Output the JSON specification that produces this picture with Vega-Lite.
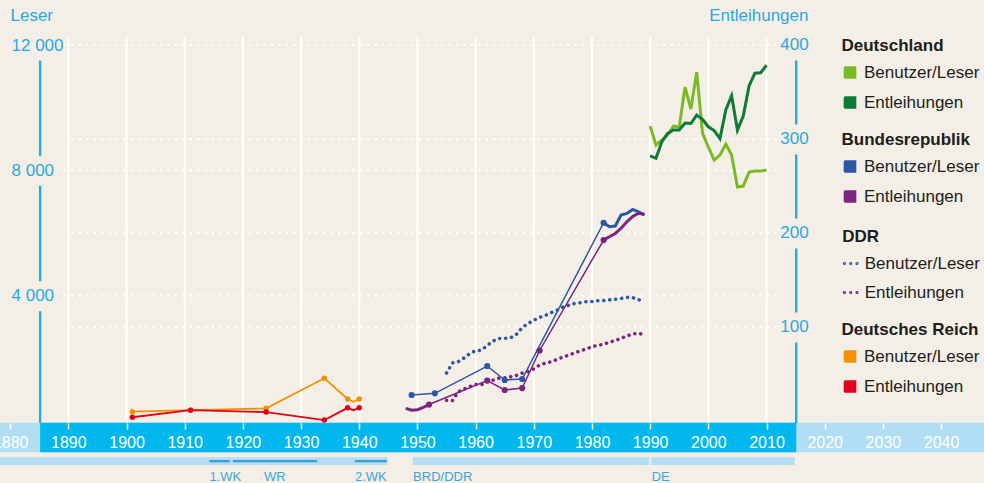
{
"$schema":"https://vega.github.io/schema/vega-lite/v6.json",
"width":984,"height":483,"autosize":{"type":"none"},"padding":0,
"background":"#f3efe7",
"config":{"view":{"stroke":null},"font":"Liberation Sans",
 "legend":{"padding":0,"titleFont":"Liberation Sans","titleFontSize":17,"titleFontWeight":"bold","titleColor":"#1d1d1b","labelFont":"Liberation Sans","labelFontSize":17,"labelColor":"#1d1d1b","titlePadding":9,"rowPadding":11,"labelOffset":5.5,"titleLimit":300,"labelLimit":300,
  "symbolType":"M-0.88,-0.88H0.88V-0.72H-0.88V-0.56H0.88V-0.4H-0.88V-0.24H0.88V-0.08H-0.88V0.08H0.88V0.24H-0.88V0.4H0.88V0.56H-0.88V0.72H0.88V0.88H-0.88","symbolSize":161.3,"symbolStrokeWidth":1.5,"symbolDash":[1,0]}},
"datasets":{
 "decades":[{"year":1890},{"year":1900},{"year":1910},{"year":1920},{"year":1930},{"year":1940},{"year":1950},{"year":1960},{"year":1970},{"year":1980},{"year":1990},{"year":2000},{"year":2010}],
 "gridLeser":[{"value":4000},{"value":8000},{"value":12000}],
 "gridEntl":[{"value":100},{"value":200},{"value":300}],
 "ticksLeser":[{"from":0,"to":4000},{"from":4000,"to":8000},{"from":8000,"to":12000}],
 "ticksEntl":[{"from":0,"to":100},{"from":100,"to":200},{"from":200,"to":300},{"from":300,"to":400}],
 "periods":[
  {"name":"Deutsches Reich","level":"era","start":1871,"end":1945},
  {"name":"BRD/DDR","level":"era","start":1949,"end":1990},
  {"name":"DE","level":"era","start":1990,"end":2015},
  {"name":"1.WK","level":"event","start":1914,"end":1918},
  {"name":"WR","level":"event","start":1918,"end":1933},
  {"name":"2.WK","level":"event","start":1939,"end":1945}],
 "series":[
  {"c":"Deutschland","m":"Benutzer/Leser","year":1990,"value":9415},
  {"c":"Deutschland","m":"Benutzer/Leser","year":1991,"value":8809},
  {"c":"Deutschland","m":"Benutzer/Leser","year":1992,"value":8968},
  {"c":"Deutschland","m":"Benutzer/Leser","year":1993,"value":9128},
  {"c":"Deutschland","m":"Benutzer/Leser","year":1994,"value":9415},
  {"c":"Deutschland","m":"Benutzer/Leser","year":1995,"value":9383},
  {"c":"Deutschland","m":"Benutzer/Leser","year":1996,"value":10660},
  {"c":"Deutschland","m":"Benutzer/Leser","year":1997,"value":9957},
  {"c":"Deutschland","m":"Benutzer/Leser","year":1998,"value":11138},
  {"c":"Deutschland","m":"Benutzer/Leser","year":1999,"value":9192},
  {"c":"Deutschland","m":"Benutzer/Leser","year":2000,"value":8745},
  {"c":"Deutschland","m":"Benutzer/Leser","year":2001,"value":8330},
  {"c":"Deutschland","m":"Benutzer/Leser","year":2002,"value":8489},
  {"c":"Deutschland","m":"Benutzer/Leser","year":2003,"value":8840},
  {"c":"Deutschland","m":"Benutzer/Leser","year":2004,"value":8489},
  {"c":"Deutschland","m":"Benutzer/Leser","year":2005,"value":7468},
  {"c":"Deutschland","m":"Benutzer/Leser","year":2006,"value":7500},
  {"c":"Deutschland","m":"Benutzer/Leser","year":2007,"value":7947},
  {"c":"Deutschland","m":"Benutzer/Leser","year":2008,"value":7979},
  {"c":"Deutschland","m":"Benutzer/Leser","year":2009,"value":7979},
  {"c":"Deutschland","m":"Benutzer/Leser","year":2010,"value":8011},
  {"c":"Deutschland","m":"Entleihungen","year":1990,"value":282},
  {"c":"Deutschland","m":"Entleihungen","year":1991,"value":279.5},
  {"c":"Deutschland","m":"Entleihungen","year":1992,"value":297},
  {"c":"Deutschland","m":"Entleihungen","year":1993,"value":306},
  {"c":"Deutschland","m":"Entleihungen","year":1994,"value":309.5},
  {"c":"Deutschland","m":"Entleihungen","year":1995,"value":309.5},
  {"c":"Deutschland","m":"Entleihungen","year":1996,"value":317},
  {"c":"Deutschland","m":"Entleihungen","year":1997,"value":316.5},
  {"c":"Deutschland","m":"Entleihungen","year":1998,"value":325.5},
  {"c":"Deutschland","m":"Entleihungen","year":1999,"value":321},
  {"c":"Deutschland","m":"Entleihungen","year":2000,"value":313},
  {"c":"Deutschland","m":"Entleihungen","year":2001,"value":309},
  {"c":"Deutschland","m":"Entleihungen","year":2002,"value":300.5},
  {"c":"Deutschland","m":"Entleihungen","year":2003,"value":331},
  {"c":"Deutschland","m":"Entleihungen","year":2004,"value":346},
  {"c":"Deutschland","m":"Entleihungen","year":2005,"value":309.5},
  {"c":"Deutschland","m":"Entleihungen","year":2006,"value":324.5},
  {"c":"Deutschland","m":"Entleihungen","year":2007,"value":356.5},
  {"c":"Deutschland","m":"Entleihungen","year":2008,"value":370},
  {"c":"Deutschland","m":"Entleihungen","year":2009,"value":370.5},
  {"c":"Deutschland","m":"Entleihungen","year":2010,"value":378.5},
  {"c":"Bundesrepublik","m":"Benutzer/Leser","year":1949,"value":830},
  {"c":"Bundesrepublik","m":"Benutzer/Leser","year":1953,"value":883},
  {"c":"Bundesrepublik","m":"Benutzer/Leser","year":1962,"value":1755},
  {"c":"Bundesrepublik","m":"Benutzer/Leser","year":1965,"value":1308},
  {"c":"Bundesrepublik","m":"Benutzer/Leser","year":1968,"value":1340},
  {"c":"Bundesrepublik","m":"Benutzer/Leser","year":1982,"value":6329},
  {"c":"Bundesrepublik","m":"Benutzer/Leser","year":1983,"value":6201},
  {"c":"Bundesrepublik","m":"Benutzer/Leser","year":1984,"value":6223},
  {"c":"Bundesrepublik","m":"Benutzer/Leser","year":1985,"value":6574},
  {"c":"Bundesrepublik","m":"Benutzer/Leser","year":1986,"value":6627},
  {"c":"Bundesrepublik","m":"Benutzer/Leser","year":1987,"value":6755},
  {"c":"Bundesrepublik","m":"Benutzer/Leser","year":1988,"value":6680},
  {"c":"Bundesrepublik","m":"Benutzer/Leser","year":1989,"value":6574},
  {"c":"Bundesrepublik","m":"Entleihungen","year":1948,"value":13.5},
  {"c":"Bundesrepublik","m":"Entleihungen","year":1949,"value":11.5},
  {"c":"Bundesrepublik","m":"Entleihungen","year":1950,"value":12},
  {"c":"Bundesrepublik","m":"Entleihungen","year":1951,"value":14.5},
  {"c":"Bundesrepublik","m":"Entleihungen","year":1952,"value":17.5},
  {"c":"Bundesrepublik","m":"Entleihungen","year":1962,"value":43},
  {"c":"Bundesrepublik","m":"Entleihungen","year":1965,"value":33},
  {"c":"Bundesrepublik","m":"Entleihungen","year":1968,"value":35},
  {"c":"Bundesrepublik","m":"Entleihungen","year":1971,"value":75},
  {"c":"Bundesrepublik","m":"Entleihungen","year":1982,"value":192.5},
  {"c":"Bundesrepublik","m":"Entleihungen","year":1983,"value":196},
  {"c":"Bundesrepublik","m":"Entleihungen","year":1984,"value":199.5},
  {"c":"Bundesrepublik","m":"Entleihungen","year":1985,"value":205},
  {"c":"Bundesrepublik","m":"Entleihungen","year":1986,"value":212},
  {"c":"Bundesrepublik","m":"Entleihungen","year":1987,"value":217.5},
  {"c":"Bundesrepublik","m":"Entleihungen","year":1988,"value":221},
  {"c":"Bundesrepublik","m":"Entleihungen","year":1989,"value":220},
  {"c":"DDR","m":"Benutzer/Leser","year":1955,"value":1532},
  {"c":"DDR","m":"Benutzer/Leser","year":1956,"value":1851},
  {"c":"DDR","m":"Benutzer/Leser","year":1957,"value":1893},
  {"c":"DDR","m":"Benutzer/Leser","year":1958,"value":2011},
  {"c":"DDR","m":"Benutzer/Leser","year":1959,"value":2154},
  {"c":"DDR","m":"Benutzer/Leser","year":1960,"value":2244},
  {"c":"DDR","m":"Benutzer/Leser","year":1961,"value":2260},
  {"c":"DDR","m":"Benutzer/Leser","year":1962,"value":2410},
  {"c":"DDR","m":"Benutzer/Leser","year":1963,"value":2553},
  {"c":"DDR","m":"Benutzer/Leser","year":1964,"value":2633},
  {"c":"DDR","m":"Benutzer/Leser","year":1965,"value":2643},
  {"c":"DDR","m":"Benutzer/Leser","year":1966,"value":2655},
  {"c":"DDR","m":"Benutzer/Leser","year":1967,"value":2761},
  {"c":"DDR","m":"Benutzer/Leser","year":1968,"value":2978},
  {"c":"DDR","m":"Benutzer/Leser","year":1969,"value":3112},
  {"c":"DDR","m":"Benutzer/Leser","year":1970,"value":3214},
  {"c":"DDR","m":"Benutzer/Leser","year":1971,"value":3310},
  {"c":"DDR","m":"Benutzer/Leser","year":1972,"value":3370},
  {"c":"DDR","m":"Benutzer/Leser","year":1973,"value":3463},
  {"c":"DDR","m":"Benutzer/Leser","year":1974,"value":3536},
  {"c":"DDR","m":"Benutzer/Leser","year":1975,"value":3638},
  {"c":"DDR","m":"Benutzer/Leser","year":1976,"value":3696},
  {"c":"DDR","m":"Benutzer/Leser","year":1977,"value":3750},
  {"c":"DDR","m":"Benutzer/Leser","year":1978,"value":3776},
  {"c":"DDR","m":"Benutzer/Leser","year":1979,"value":3807},
  {"c":"DDR","m":"Benutzer/Leser","year":1980,"value":3811},
  {"c":"DDR","m":"Benutzer/Leser","year":1981,"value":3839},
  {"c":"DDR","m":"Benutzer/Leser","year":1982,"value":3843},
  {"c":"DDR","m":"Benutzer/Leser","year":1983,"value":3868},
  {"c":"DDR","m":"Benutzer/Leser","year":1984,"value":3887},
  {"c":"DDR","m":"Benutzer/Leser","year":1985,"value":3910},
  {"c":"DDR","m":"Benutzer/Leser","year":1986,"value":3948},
  {"c":"DDR","m":"Benutzer/Leser","year":1987,"value":3938},
  {"c":"DDR","m":"Benutzer/Leser","year":1988,"value":3878},
  {"c":"DDR","m":"Benutzer/Leser","year":1989,"value":3798},
  {"c":"DDR","m":"Entleihungen","year":1955,"value":22},
  {"c":"DDR","m":"Entleihungen","year":1956,"value":21.5},
  {"c":"DDR","m":"Entleihungen","year":1957,"value":31},
  {"c":"DDR","m":"Entleihungen","year":1958,"value":34},
  {"c":"DDR","m":"Entleihungen","year":1959,"value":36.5},
  {"c":"DDR","m":"Entleihungen","year":1960,"value":39},
  {"c":"DDR","m":"Entleihungen","year":1961,"value":38.5},
  {"c":"DDR","m":"Entleihungen","year":1962,"value":42},
  {"c":"DDR","m":"Entleihungen","year":1963,"value":43.5},
  {"c":"DDR","m":"Entleihungen","year":1964,"value":45.5},
  {"c":"DDR","m":"Entleihungen","year":1965,"value":46},
  {"c":"DDR","m":"Entleihungen","year":1966,"value":47},
  {"c":"DDR","m":"Entleihungen","year":1967,"value":48.5},
  {"c":"DDR","m":"Entleihungen","year":1968,"value":51},
  {"c":"DDR","m":"Entleihungen","year":1969,"value":52.5},
  {"c":"DDR","m":"Entleihungen","year":1970,"value":55.5},
  {"c":"DDR","m":"Entleihungen","year":1971,"value":59.5},
  {"c":"DDR","m":"Entleihungen","year":1972,"value":61.5},
  {"c":"DDR","m":"Entleihungen","year":1973,"value":63},
  {"c":"DDR","m":"Entleihungen","year":1974,"value":65.5},
  {"c":"DDR","m":"Entleihungen","year":1975,"value":68},
  {"c":"DDR","m":"Entleihungen","year":1976,"value":70},
  {"c":"DDR","m":"Entleihungen","year":1977,"value":72.5},
  {"c":"DDR","m":"Entleihungen","year":1978,"value":74.5},
  {"c":"DDR","m":"Entleihungen","year":1979,"value":76.5},
  {"c":"DDR","m":"Entleihungen","year":1980,"value":79},
  {"c":"DDR","m":"Entleihungen","year":1981,"value":80.5},
  {"c":"DDR","m":"Entleihungen","year":1982,"value":81.5},
  {"c":"DDR","m":"Entleihungen","year":1983,"value":84},
  {"c":"DDR","m":"Entleihungen","year":1984,"value":85.5},
  {"c":"DDR","m":"Entleihungen","year":1985,"value":88},
  {"c":"DDR","m":"Entleihungen","year":1986,"value":90.5},
  {"c":"DDR","m":"Entleihungen","year":1987,"value":92.5},
  {"c":"DDR","m":"Entleihungen","year":1988,"value":93.5},
  {"c":"DDR","m":"Entleihungen","year":1989,"value":91.5},
  {"c":"Deutsches Reich","m":"Benutzer/Leser","year":1901,"value":297},
  {"c":"Deutsches Reich","m":"Benutzer/Leser","year":1911,"value":345},
  {"c":"Deutsches Reich","m":"Benutzer/Leser","year":1924,"value":405},
  {"c":"Deutsches Reich","m":"Benutzer/Leser","year":1934,"value":1363},
  {"c":"Deutsches Reich","m":"Benutzer/Leser","year":1938,"value":702},
  {"c":"Deutsches Reich","m":"Benutzer/Leser","year":1939,"value":616},
  {"c":"Deutsches Reich","m":"Benutzer/Leser","year":1940,"value":702},
  {"c":"Deutsches Reich","m":"Entleihungen","year":1901,"value":4},
  {"c":"Deutsches Reich","m":"Entleihungen","year":1911,"value":11.5},
  {"c":"Deutsches Reich","m":"Entleihungen","year":1924,"value":9.5},
  {"c":"Deutsches Reich","m":"Entleihungen","year":1934,"value":1},
  {"c":"Deutsches Reich","m":"Entleihungen","year":1938,"value":14},
  {"c":"Deutsches Reich","m":"Entleihungen","year":1939,"value":11.5},
  {"c":"Deutsches Reich","m":"Entleihungen","year":1940,"value":14}
 ]
},
"layer":[
 {"data":{"name":"decades"},"mark":{"type":"rule","color":"#ffffff","strokeWidth":2},
  "encoding":{
   "x":{"field":"year","type":"quantitative","scale":{"domain":[1878.25,2047.38],"nice":false,"zero":false},
    "axis":{"orient":"bottom","offset":-60,"values":[1880,1885,1890,1895,1900,1905,1910,1915,1920,1925,1930,1935,1940,1945,1950,1955,1960,1965,1970,1975,1980,1985,1990,1995,2000,2005,2010,2015,2020,2025,2030,2035,2040,2045,2050],
     "format":"d","labelExpr":"datum.value % 10 === 0 ? datum.label : ''","domain":false,"grid":false,"ticks":true,"tickColor":"#ffffff","tickWidth":1.5,"tickSize":6,
     "tickDash":{"condition":{"test":"datum.value % 10 === 0","value":[1,0]},"value":[3,10]},
     "labelColor":"#ffffff","labelFontSize":16,"labelPadding":5,"labelOverlap":false,"labelBound":false,"labelFlush":false,"title":null,"zindex":1}},
   "y":{"datum":12258,"type":"quantitative","scale":{"domain":[-1979.2,13439.7],"nice":false,"zero":false},"axis":null},
   "y2":{"datum":-96}}},
 {"data":{"name":"gridLeser"},"mark":{"type":"rule","color":"#ffffff","strokeWidth":2.4,"strokeDash":[0.1,7.3],"strokeCap":"round"},
  "encoding":{
   "x":{"datum":1889.4,"type":"quantitative","scale":{"domain":[1878.25,2047.38],"nice":false,"zero":false}},
   "x2":{"datum":2012.6},
   "y":{"field":"value","type":"quantitative","scale":{"domain":[-1979.2,13439.7],"nice":false,"zero":false},
    "axis":{"orient":"left","offset":-11,"values":[4000,8000,12000],"labelExpr":"replace(format(datum.value, ',d'), ',', ' ')","domain":false,"ticks":false,"grid":false,
     "labelAlign":"left","labelBaseline":"middle","labelPadding":0,"labelColor":"#29a9e1","labelFontSize":17,"labelBound":false,"labelOverlap":false,
     "title":"Leser","titleAngle":0,"titleAlign":"left","titleBaseline":"alphabetic","titleX":-1,"titleY":20.5,"titleColor":"#29a9e1","titleFontSize":17,"titleFontWeight":"normal"}}}},
 {"data":{"name":"ticksLeser"},"mark":{"type":"rule","color":"#29a9e1","strokeWidth":2.4,"yOffset":{"expr":"datum.from === 0 ? 2 : -14.5"},"y2Offset":15.5},
  "encoding":{
   "x":{"datum":1885.15,"type":"quantitative","scale":{"domain":[1878.25,2047.38],"nice":false,"zero":false}},
   "y":{"field":"from","type":"quantitative","scale":{"domain":[-1979.2,13439.7],"nice":false,"zero":false},"axis":null},
   "y2":{"field":"to"}}},
 {"data":{"values":[{}]},"mark":{"type":"rect","color":"#b1ddf5"},
  "encoding":{
   "x":{"datum":1870,"type":"quantitative","scale":{"domain":[1878.25,2047.38],"nice":false,"zero":false}},
   "x2":{"datum":2060},
   "y":{"datum":-54.3,"type":"quantitative","scale":{"domain":[-1979.2,13439.7],"nice":false,"zero":false},"axis":null},
   "y2":{"datum":-999}}},
 {"data":{"values":[{}]},"mark":{"type":"rect","color":"#00b8ee"},
  "encoding":{
   "x":{"datum":1885.15,"type":"quantitative","scale":{"domain":[1878.25,2047.38],"nice":false,"zero":false}},
   "x2":{"datum":2015.1},
   "y":{"datum":-54.3,"type":"quantitative","scale":{"domain":[-1979.2,13439.7],"nice":false,"zero":false},"axis":null},
   "y2":{"datum":-999}}},
 {"data":{"name":"periods"},"transform":[{"filter":"datum.level === 'era'"}],"mark":{"type":"rect","color":"#b1ddf5","xOffset":1,"x2Offset":-1},
  "encoding":{
   "x":{"field":"start","type":"quantitative","scale":{"domain":[1878.25,2047.38],"nice":false,"zero":false}},
   "x2":{"field":"end"},
   "y":{"datum":-1158.8,"type":"quantitative","scale":{"domain":[-1979.2,13439.7],"nice":false,"zero":false},"axis":null},
   "y2":{"datum":-1404.6}}},
 {"data":{"name":"periods"},"transform":[{"filter":"datum.level === 'event'"}],"mark":{"type":"rect","color":"#3a9fd9","xOffset":1.5,"x2Offset":-1.5},
  "encoding":{
   "x":{"field":"start","type":"quantitative","scale":{"domain":[1878.25,2047.38],"nice":false,"zero":false}},
   "x2":{"field":"end"},
   "y":{"datum":-1245,"type":"quantitative","scale":{"domain":[-1979.2,13439.7],"nice":false,"zero":false},"axis":null},
   "y2":{"datum":-1318}}},
 {"data":{"name":"periods"},"transform":[{"filter":"datum.name !== 'Deutsches Reich' && datum.name !== 'WR'"}],
  "mark":{"type":"text","align":"left","baseline":"alphabetic","dx":1.5,"fontSize":13,"color":"#3ba6dd"},
  "encoding":{
   "x":{"field":"start","type":"quantitative","scale":{"domain":[1878.25,2047.38],"nice":false,"zero":false}},
   "y":{"datum":-1915,"type":"quantitative","scale":{"domain":[-1979.2,13439.7],"nice":false,"zero":false},"axis":null},
   "text":{"field":"name"}}},
 {"data":{"name":"periods"},"transform":[{"filter":"datum.name === 'WR'"},{"calculate":"(datum.start + datum.end) / 2","as":"mid"}],
  "mark":{"type":"text","align":"center","baseline":"alphabetic","fontSize":13,"color":"#3ba6dd"},
  "encoding":{
   "x":{"field":"mid","type":"quantitative","scale":{"domain":[1878.25,2047.38],"nice":false,"zero":false}},
   "y":{"datum":-1915,"type":"quantitative","scale":{"domain":[-1979.2,13439.7],"nice":false,"zero":false},"axis":null},
   "text":{"field":"name"}}},
 {"data":{"name":"gridEntl"},"mark":{"type":"rule","color":"#ffffff","strokeWidth":2.4,"strokeDash":[0.1,7.3],"strokeCap":"round"},
  "encoding":{
   "x":{"datum":1890.7,"type":"quantitative","scale":{"domain":[1878.25,2047.38],"nice":false,"zero":false}},
   "x2":{"datum":2012.6},
   "y":{"field":"value","type":"quantitative","scale":{"domain":[-65.96,447.87],"nice":false,"zero":false},
    "axis":{"orient":"right","offset":-190,"values":[100,200,300,400],"domain":false,"ticks":false,"grid":false,
     "labelAlign":"center","labelBaseline":"middle","labelPadding":0,"labelColor":"#29a9e1","labelFontSize":17,"labelBound":false,"labelOverlap":false,
     "title":"Entleihungen","titleAngle":0,"titleAlign":"right","titleBaseline":"alphabetic","titleX":14,"titleY":20.5,"titleColor":"#29a9e1","titleFontSize":17,"titleFontWeight":"normal"}}}},
 {"data":{"name":"ticksEntl"},"mark":{"type":"rule","color":"#29a9e1","strokeWidth":2.4,"yOffset":{"expr":"datum.from === 0 ? 2 : -14.5"},"y2Offset":15.5},
  "encoding":{
   "x":{"datum":2015.1,"type":"quantitative","scale":{"domain":[1878.25,2047.38],"nice":false,"zero":false}},
   "y":{"field":"from","type":"quantitative","scale":{"domain":[-65.96,447.87],"nice":false,"zero":false},"axis":null},
   "y2":{"field":"to"}}},
 {"data":{"name":"series"},"transform":[{"filter":"datum.c === 'Deutschland'"}],
  "layer":[
   {"transform":[{"filter":"datum.m === 'Benutzer/Leser'"}],"mark":{"type":"line","strokeWidth":3},
    "encoding":{
     "x":{"field":"year","type":"quantitative","scale":{"domain":[1878.25,2047.38],"nice":false,"zero":false}},
     "y":{"field":"value","type":"quantitative","scale":{"domain":[-1979.2,13439.7],"nice":false,"zero":false},"axis":null},
     "color":{"field":"m","type":"nominal","scale":{"domain":["Benutzer/Leser","Entleihungen"],"range":["#7cb927","#0f7a36"]},
      "legend":{"title":"Deutschland","orient":"none","legendX":841.5,"legendY":38}}}},
   {"transform":[{"filter":"datum.m === 'Entleihungen'"}],"mark":{"type":"line","strokeWidth":3},
    "encoding":{
     "x":{"field":"year","type":"quantitative","scale":{"domain":[1878.25,2047.38],"nice":false,"zero":false}},
     "y":{"field":"value","type":"quantitative","scale":{"domain":[-65.96,447.87],"nice":false,"zero":false},"axis":null},
     "color":{"field":"m","type":"nominal","scale":{"domain":["Benutzer/Leser","Entleihungen"],"range":["#7cb927","#0f7a36"]},
      "legend":{"title":"Deutschland","orient":"none","legendX":841.5,"legendY":38}}}}
  ],
  "resolve":{"scale":{"y":"independent"}}},
 {"data":{"name":"series"},"transform":[{"filter":"datum.c === 'DDR'"}],
  "layer":[
   {"transform":[{"filter":"datum.m === 'Benutzer/Leser'"}],"mark":{"type":"line","strokeWidth":3.5,"strokeDash":[0.1,5.9],"strokeCap":"round"},
    "encoding":{
     "x":{"field":"year","type":"quantitative","scale":{"domain":[1878.25,2047.38],"nice":false,"zero":false}},
     "y":{"field":"value","type":"quantitative","scale":{"domain":[-1979.2,13439.7],"nice":false,"zero":false},"axis":null},
     "color":{"field":"m","type":"nominal","scale":{"domain":["Benutzer/Leser","Entleihungen"],"range":["#2c57a5","#7b2482"]},
      "legend":{"title":"DDR","orient":"none","legendX":842.2,"legendY":229,"symbolType":"M-1.33,0a0.12,0.12 0 1,0 0.24,0a0.12,0.12 0 1,0 -0.24,0z M-0.12,0a0.12,0.12 0 1,0 0.24,0a0.12,0.12 0 1,0 -0.24,0z M1.09,0a0.12,0.12 0 1,0 0.24,0a0.12,0.12 0 1,0 -0.24,0z","symbolSize":108.2,"symbolStrokeWidth":2}}}},
   {"transform":[{"filter":"datum.m === 'Entleihungen'"}],"mark":{"type":"line","strokeWidth":3.5,"strokeDash":[0.1,5.9],"strokeCap":"round"},
    "encoding":{
     "x":{"field":"year","type":"quantitative","scale":{"domain":[1878.25,2047.38],"nice":false,"zero":false}},
     "y":{"field":"value","type":"quantitative","scale":{"domain":[-65.96,447.87],"nice":false,"zero":false},"axis":null},
     "color":{"field":"m","type":"nominal","scale":{"domain":["Benutzer/Leser","Entleihungen"],"range":["#2c57a5","#7b2482"]},
      "legend":{"title":"DDR","orient":"none","legendX":842.2,"legendY":229,"symbolType":"M-1.33,0a0.12,0.12 0 1,0 0.24,0a0.12,0.12 0 1,0 -0.24,0z M-0.12,0a0.12,0.12 0 1,0 0.24,0a0.12,0.12 0 1,0 -0.24,0z M1.09,0a0.12,0.12 0 1,0 0.24,0a0.12,0.12 0 1,0 -0.24,0z","symbolSize":108.2,"symbolStrokeWidth":2}}}}
  ],
  "resolve":{"scale":{"y":"independent"}}},
 {"data":{"name":"series"},"transform":[{"filter":"datum.c === 'Bundesrepublik'"}],
  "layer":[
   {"transform":[{"filter":"datum.m === 'Benutzer/Leser'"}],
    "encoding":{
     "x":{"field":"year","type":"quantitative","scale":{"domain":[1878.25,2047.38],"nice":false,"zero":false}},
     "y":{"field":"value","type":"quantitative","scale":{"domain":[-1979.2,13439.7],"nice":false,"zero":false},"axis":null}},
    "layer":[
     {"mark":{"type":"line","strokeWidth":1.5},
      "encoding":{"color":{"field":"m","type":"nominal","scale":{"domain":["Benutzer/Leser","Entleihungen"],"range":["#2c57a5","#7b2482"]},
       "legend":{"title":"Bundesrepublik","orient":"none","legendX":841.5,"legendY":132}}}},
     {"transform":[{"filter":"datum.year >= 1982"}],"mark":{"type":"line","strokeWidth":3,"color":"#2c57a5"}},
     {"transform":[{"filter":"datum.year <= 1982"}],"mark":{"type":"point","filled":true,"size":38,"opacity":1,"color":"#2c57a5"}}
    ]},
   {"transform":[{"filter":"datum.m === 'Entleihungen'"}],
    "encoding":{
     "x":{"field":"year","type":"quantitative","scale":{"domain":[1878.25,2047.38],"nice":false,"zero":false}},
     "y":{"field":"value","type":"quantitative","scale":{"domain":[-65.96,447.87],"nice":false,"zero":false},"axis":null}},
    "layer":[
     {"mark":{"type":"line","strokeWidth":1.5},
      "encoding":{"color":{"field":"m","type":"nominal","scale":{"domain":["Benutzer/Leser","Entleihungen"],"range":["#2c57a5","#7b2482"]},
       "legend":{"title":"Bundesrepublik","orient":"none","legendX":841.5,"legendY":132}}}},
     {"transform":[{"filter":"datum.year <= 1952"}],"mark":{"type":"line","strokeWidth":3,"color":"#7b2482"}},
     {"transform":[{"filter":"datum.year >= 1982"}],"mark":{"type":"line","strokeWidth":3,"color":"#7b2482"}},
     {"transform":[{"filter":"datum.year >= 1952 && datum.year <= 1982"}],"mark":{"type":"point","filled":true,"size":38,"opacity":1,"color":"#7b2482"}}
    ]}
  ],
  "resolve":{"scale":{"y":"independent"}}},
 {"data":{"name":"series"},"transform":[{"filter":"datum.c === 'Deutsches Reich'"}],
  "layer":[
   {"transform":[{"filter":"datum.m === 'Benutzer/Leser'"}],
    "encoding":{
     "x":{"field":"year","type":"quantitative","scale":{"domain":[1878.25,2047.38],"nice":false,"zero":false}},
     "y":{"field":"value","type":"quantitative","scale":{"domain":[-1979.2,13439.7],"nice":false,"zero":false},"axis":null}},
    "layer":[
     {"mark":{"type":"line","strokeWidth":1.8},
      "encoding":{"color":{"field":"m","type":"nominal","scale":{"domain":["Benutzer/Leser","Entleihungen"],"range":["#f39200","#e3001b"]},
       "legend":{"title":"Deutsches Reich","orient":"none","legendX":841.5,"legendY":322}}}},
     {"transform":[{"filter":"datum.year !== 1939"}],"mark":{"type":"point","filled":true,"size":30,"opacity":1,"color":"#f39200"}}
    ]},
   {"transform":[{"filter":"datum.m === 'Entleihungen'"}],
    "encoding":{
     "x":{"field":"year","type":"quantitative","scale":{"domain":[1878.25,2047.38],"nice":false,"zero":false}},
     "y":{"field":"value","type":"quantitative","scale":{"domain":[-65.96,447.87],"nice":false,"zero":false},"axis":null}},
    "layer":[
     {"mark":{"type":"line","strokeWidth":1.8},
      "encoding":{"color":{"field":"m","type":"nominal","scale":{"domain":["Benutzer/Leser","Entleihungen"],"range":["#f39200","#e3001b"]},
       "legend":{"title":"Deutsches Reich","orient":"none","legendX":841.5,"legendY":322}}}},
     {"transform":[{"filter":"datum.year !== 1939"}],"mark":{"type":"point","filled":true,"size":30,"opacity":1,"color":"#e3001b"}}
    ]}
  ],
  "resolve":{"scale":{"y":"independent"}}}
],
"resolve":{"scale":{"y":"independent","color":"independent"}}
}
